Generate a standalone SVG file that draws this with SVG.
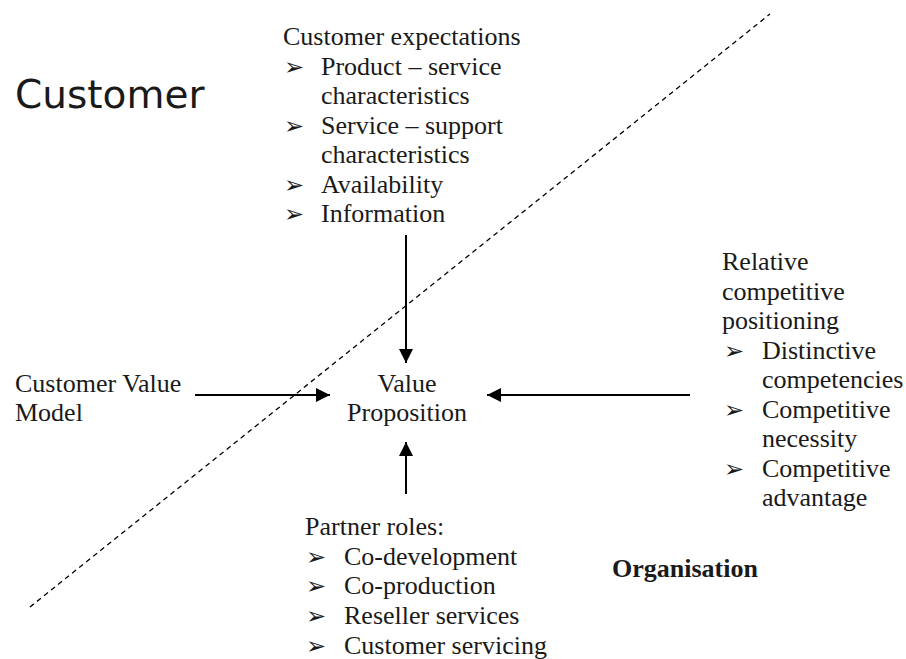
<svg xmlns="http://www.w3.org/2000/svg" width="906" height="659" viewBox="0 0 906 659">
<style>
.t{font-family:"Liberation Serif","Times New Roman",serif;font-size:26px;fill:#1a1a1a}
.b{font-family:"DejaVu Sans",sans-serif;font-size:24px;fill:#1a1a1a}
.c{stroke:#000;stroke-width:2;fill:none}
</style>
<defs>
<marker id="ah" viewBox="0 0 10 10" refX="10" refY="5" markerWidth="14" markerHeight="14" markerUnits="userSpaceOnUse" orient="auto"><path d="M0,0 L10,5 L0,10 z" fill="#000"/></marker>
<clipPath id="clipR"><rect x="700" y="240" width="206" height="271"/></clipPath>
</defs>
<rect width="906" height="659" fill="#fff"/>
<g id="divider"><line x1="30" y1="607" x2="770" y2="14" stroke="#000" stroke-width="1.3" stroke-dasharray="5,4"/></g>
<g id="customer-label"><text x="15" y="108" style="font-family:'DejaVu Sans',sans-serif;font-size:39px;fill:#1a1a1a">Customer</text></g>
<g id="expectations">
<text class="t" x="283" y="45">Customer expectations</text>
<text class="b" x="284" y="75">➢</text><text class="t" x="321" y="75">Product – service</text>
<text class="t" x="321" y="104">characteristics</text>
<text class="b" x="284" y="134">➢</text><text class="t" x="321" y="134">Service – support</text>
<text class="t" x="321" y="163">characteristics</text>
<text class="b" x="284" y="193">➢</text><text class="t" x="321" y="193">Availability</text>
<text class="b" x="284" y="222">➢</text><text class="t" x="321" y="222">Information</text>
</g>
<g id="value-model">
<text class="t" x="15" y="392">Customer Value</text>
<text class="t" x="15" y="421">Model</text>
</g>
<g id="value-proposition">
<text class="t" x="407" y="392" text-anchor="middle">Value</text>
<text class="t" x="407" y="421" text-anchor="middle">Proposition</text>
</g>
<g id="positioning" clip-path="url(#clipR)">
<text class="t" x="722" y="270">Relative</text>
<text class="t" x="722" y="299.5">competitive</text>
<text class="t" x="722" y="329">positioning</text>
<text class="b" x="724" y="358.5">➢</text><text class="t" x="762" y="358.5">Distinctive</text>
<text class="t" x="762" y="388">competencies</text>
<text class="b" x="724" y="417.5">➢</text><text class="t" x="762" y="417.5">Competitive</text>
<text class="t" x="762" y="447">necessity</text>
<text class="b" x="724" y="476.5">➢</text><text class="t" x="762" y="476.5">Competitive</text>
<text class="t" x="762" y="506">advantage</text>
</g>
<g id="partners">
<text class="t" x="305" y="535">Partner roles:</text>
<text class="b" x="306" y="565">➢</text><text class="t" x="344" y="565">Co-development</text>
<text class="b" x="306" y="594">➢</text><text class="t" x="344" y="594">Co-production</text>
<text class="b" x="306" y="624">➢</text><text class="t" x="344" y="624">Reseller services</text>
<text class="b" x="306" y="654">➢</text><text class="t" x="344" y="654">Customer servicing</text>
</g>
<g id="organisation"><text class="t" x="612" y="577" font-weight="bold">Organisation</text></g>
<g id="connectors">
<line class="c" x1="406" y1="235" x2="406" y2="363" marker-end="url(#ah)"/>
<line class="c" x1="195" y1="395" x2="330" y2="395" marker-end="url(#ah)"/>
<line class="c" x1="690" y1="395" x2="487" y2="395" marker-end="url(#ah)"/>
<line class="c" x1="406" y1="494" x2="406" y2="442" marker-end="url(#ah)"/>
</g>
</svg>
